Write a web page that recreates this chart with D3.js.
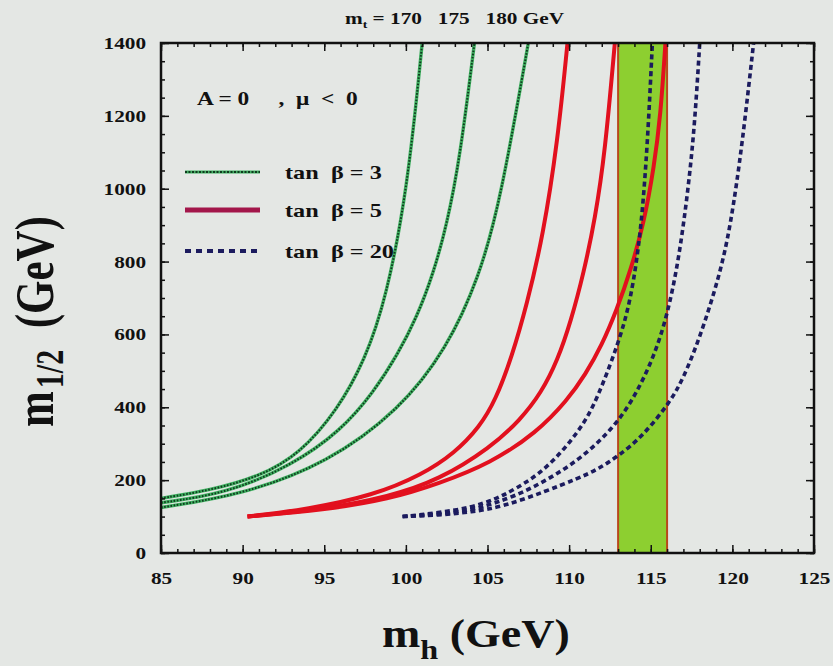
<!DOCTYPE html>
<html>
<head>
<meta charset="utf-8">
<script src="https://cdn.jsdelivr.net/npm/d3@7"></script>
<style>
  body { margin: 0; background: #e4e7e4; }
  svg { display: block; }
  text { font-family: "Liberation Serif", "Times New Roman", serif; font-weight: bold; fill: #111; }
</style>
</head>
<body>
<div id="chart"></div>
<script>
// m_t values of the three curves in each family
const mtValues = [170, 175, 180];
const xMajor = [85, 90, 95, 100, 105, 110, 115, 120, 125];
const yMajor = [0, 200, 400, 600, 800, 1000, 1200, 1400];
const higgsBand = [113, 116];

// tan beta = 3  [m_h, m_1/2]
const green170 = [[85,150],[88,172],[91,209],[93.5,272],[95.8,392],[97.5,530],[98.8,700],[100.1,1000],[101.0,1400]];
const green175 = [[85,138],[89,163],[93,240],[96,335],[98,440],[99.5,545],[100.7,650],[101.7,770],[102.5,900],[103.3,1080],[104.2,1400]];
const green180 = [[85,125],[90,160],[95.2,247],[99.6,392],[102.5,560],[104.5,758],[105.8,969],[107.5,1400]];

// tan beta = 5
const red170 = [[90.3,100],[94,120],[98,158],[101,215],[103,275],[104.5,345],[105.5,420],[106.5,540],[107.4,680],[108.4,870],[109.3,1130],[109.9,1400]];
const red175 = [[90.3,100],[95,120],[99,155],[102,200],[105.2,290],[107,365],[108.3,440],[109.3,530],[110.1,635],[110.9,770],[111.6,920],[112.2,1100],[112.8,1400]];
const red180 = [[90.3,100],[95,118],[99,148],[102,190],[105.2,247],[108,330],[109.9,420],[111.0,490],[112.0,570],[112.9,665],[113.8,780],[114.6,910],[115.2,1060],[115.6,1200],[115.9,1400]];

// tan beta = 20
const blue170 = [[99.8,100],[102,110],[104,125],[105.5,148],[106.6,173],[108.6,228],[110.7,338],[111.7,420],[113.1,585],[113.8,700],[114.4,880],[114.8,1120],[115.1,1400]];
const blue175 = [[99.8,100],[102,106],[104,118],[105.5,137],[107.6,173],[110.7,255],[113.0,357],[114.2,445],[115.2,540],[116.0,650],[116.7,800],[117.3,1000],[117.7,1180],[118.0,1400]];
const blue180 = [[99.8,100],[102,104],[104,112],[106,128],[108.6,170],[110.5,204],[111.7,228],[113.0,266],[114.5,320],[116.2,415],[117.0,480],[118.0,590],[119.2,758],[119.9,900],[120.6,1120],[121.3,1400]];

const tanBetaLabels = ["tan  \u03b2 = 3", "tan  \u03b2 = 5", "tan  \u03b2 = 20"];

var margin = {top: 43, right: 19, bottom: 113, left: 161},
    width = 833 - margin.left - margin.right,
    height = 666 - margin.top - margin.bottom;

const root = d3.select("#chart")
  .append("svg")
    .attr("width", 833)
    .attr("height", 666);

root.append("rect").attr("width", 833).attr("height", 666).attr("fill", "#e4e7e4");

const svg = root.append("g")
    .attr("transform", `translate(${margin.left},${margin.top})`);

const x = d3.scaleLinear().domain([85, 125]).range([0, width]);
const y = d3.scaleLinear().domain([0, 1400]).range([height, 0]);

svg.append("clipPath").attr("id", "plotclip")
  .append("rect").attr("width", width).attr("height", height);

// experimental band
svg.append("rect")
    .attr("x", x(higgsBand[0]))
    .attr("y", 0)
    .attr("width", x(higgsBand[1]) - x(higgsBand[0]))
    .attr("height", height)
    .attr("fill", "#8dcf30");
svg.selectAll("bandedge")
  .data(higgsBand)
  .join("line")
    .attr("x1", d => x(d)).attr("x2", d => x(d))
    .attr("y1", 0).attr("y2", height)
    .attr("stroke", "#b8481c")
    .attr("stroke-width", 2);

const line = d3.line()
    .x(d => x(d[0]))
    .y(d => y(d[1]))
    .curve(d3.curveBasis);

const curves = svg.append("g").attr("clip-path", "url(#plotclip)");

// tan beta = 3 : green with dark dots
[green170, green175, green180].forEach(c => {
  curves.append("path").datum(c).attr("d", line)
    .attr("fill", "none").attr("stroke", "#3fb060").attr("stroke-width", 3.4);
  curves.append("path").datum(c).attr("d", line)
    .attr("fill", "none").attr("stroke", "#0f3a1e").attr("stroke-width", 2)
    .attr("stroke-dasharray", "1.6,1.6");
});

// tan beta = 5 : solid red
[red170, red175, red180].forEach(c => {
  curves.append("path").datum(c).attr("d", line)
    .attr("fill", "none").attr("stroke", "#e2101e").attr("stroke-width", 4);
});

// tan beta = 20 : dashed blue
[blue170, blue175, blue180].forEach(c => {
  curves.append("path").datum(c).attr("d", line)
    .attr("fill", "none").attr("stroke", "#1b1b5e").attr("stroke-width", 3.6)
    .attr("stroke-dasharray", "5,3.5");
});

// axes, ticks inward on all four sides
function styleAxis(g) {
  g.select(".domain").remove();
  g.selectAll(".tick line").attr("stroke", "#111").attr("stroke-width", 1.5);
}

svg.append("g")
    .attr("transform", `translate(0,${height})`)
    .call(d3.axisBottom(x).tickValues(d3.range(85, 126, 1)).tickSize(-4).tickFormat(""))
    .call(styleAxis);
svg.append("g")
    .attr("transform", `translate(0,${height})`)
    .call(d3.axisBottom(x).tickValues(xMajor).tickSize(-8).tickPadding(19).tickFormat(d3.format("d")))
    .call(styleAxis)
    .selectAll("text")
      .attr("font-size", 17)
      .attr("transform", "scale(1.25,1)");

svg.append("g")
    .call(d3.axisTop(x).tickValues(d3.range(85, 126, 1)).tickSize(-4).tickFormat(""))
    .call(styleAxis);
svg.append("g")
    .call(d3.axisTop(x).tickValues(xMajor).tickSize(-8).tickFormat(""))
    .call(styleAxis);

svg.append("g")
    .call(d3.axisLeft(y).tickValues(d3.range(0, 1401, 50)).tickSize(-4).tickFormat(""))
    .call(styleAxis);
svg.append("g")
    .call(d3.axisLeft(y).tickValues(yMajor).tickSize(-8).tickPadding(12).tickFormat(d3.format("d")))
    .call(styleAxis)
    .selectAll("text")
      .attr("font-size", 17)
      .attr("transform", "scale(1.25,1)");

svg.append("g")
    .attr("transform", `translate(${width},0)`)
    .call(d3.axisRight(y).tickValues(d3.range(0, 1401, 50)).tickSize(-4).tickFormat(""))
    .call(styleAxis);
svg.append("g")
    .attr("transform", `translate(${width},0)`)
    .call(d3.axisRight(y).tickValues(yMajor).tickSize(-8).tickFormat(""))
    .call(styleAxis);

// frame
svg.append("rect")
    .attr("width", width).attr("height", height)
    .attr("fill", "none").attr("stroke", "#111").attr("stroke-width", 2.5);

// legend
svg.append("text")
    .attr("transform", "translate(36,62) scale(1.3,1)")
    .attr("font-size", 18)
    .style("white-space", "pre")
    .text("A = 0     ,  \u03bc  <  0");

const legendY = [129, 167, 208];
const legendStyle = [
  {stroke: "#3fb060", w: 3, dash: null, over: "#0f3a1e"},
  {stroke: "#a3174a", w: 5, dash: null},
  {stroke: "#1b1b5e", w: 4, dash: "6,5"}
];
legendStyle.forEach((s, i) => {
  const l = svg.append("line")
      .attr("x1", 24).attr("x2", 99)
      .attr("y1", legendY[i]).attr("y2", legendY[i])
      .attr("stroke", s.stroke).attr("stroke-width", s.w);
  if (s.dash) l.attr("stroke-dasharray", s.dash);
  if (s.over) {
    svg.append("line")
      .attr("x1", 24).attr("x2", 99)
      .attr("y1", legendY[i]).attr("y2", legendY[i])
      .attr("stroke", s.over).attr("stroke-width", 2)
      .attr("stroke-dasharray", "2,1.5");
  }
});
svg.selectAll("legendlabel")
  .data(tanBetaLabels)
  .join("text")
    .attr("transform", (d, i) => `translate(124,${legendY[i] + 7}) scale(1.35,1)`)
    .attr("font-size", 18)
    .style("white-space", "pre")
    .text(d => d);

// top title
const title = root.append("text")
    .attr("transform", "translate(345,24) scale(1.25,1)")
    .attr("font-size", 17)
    .style("white-space", "pre");
title.append("tspan").text("m");
title.append("tspan").attr("font-size", 11).attr("dy", 4).text("t");
title.append("tspan").attr("dy", -4).text(" = " + mtValues.join("   ") + " GeV");

// x axis title
const xt = root.append("text")
    .attr("transform", "translate(382,647) scale(1.15,1)")
    .attr("font-size", 40)
    .style("white-space", "pre");
xt.append("tspan").text("m");
xt.append("tspan").attr("font-size", 28).attr("dy", 12).text("h");
xt.append("tspan").attr("dy", -12).text(" (GeV)");

// y axis title
const yt = root.append("text")
    .attr("transform", "translate(53,427) rotate(-90) scale(1,1.3)")
    .attr("font-size", 43)
    .style("white-space", "pre");
yt.append("tspan").text("m");
yt.append("tspan").attr("font-size", 30).attr("dx", 3).attr("dy", 8).text("1/2");
yt.append("tspan").attr("dy", -8).text("  (GeV)");
</script>
</body>
</html>
